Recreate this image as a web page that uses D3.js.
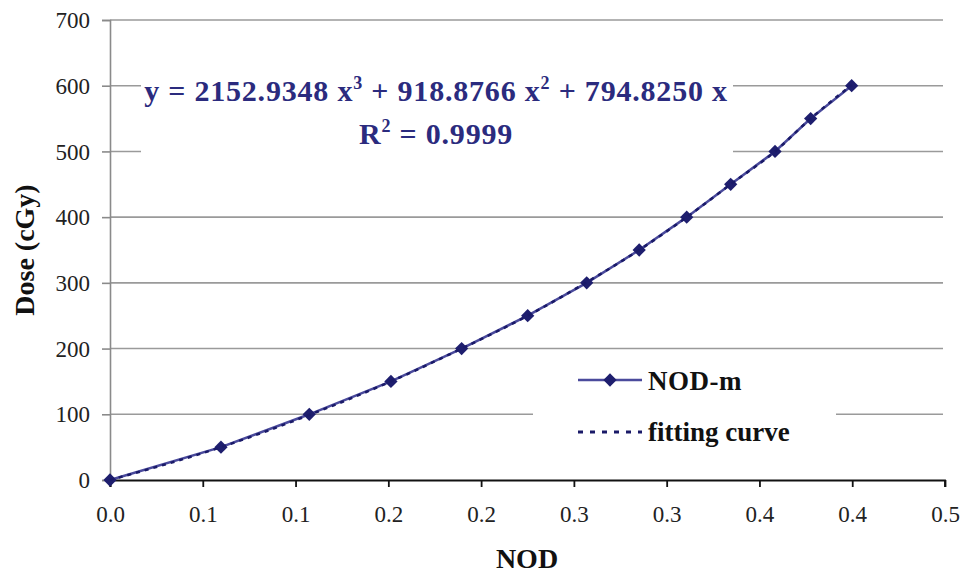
<!DOCTYPE html>
<html>
<head>
<meta charset="utf-8">
<script src="https://cdn.jsdelivr.net/npm/d3@7"></script>
</head>
<body style="margin:0; background:#fff">
<div id="chart"></div>
<script>
// data
const nod  = [0, 0.0598, 0.1074, 0.1514, 0.1895, 0.2251, 0.2569, 0.2852, 0.3108, 0.3345, 0.3584, 0.3776, 0.3997];
const dose = [0, 50, 100, 150, 200, 250, 300, 350, 400, 450, 500, 550, 600];

const fitNod  = [0, 0.0598, 0.1074, 0.1514, 0.1895, 0.2251, 0.2569, 0.2852, 0.3108, 0.3345, 0.3584, 0.3776, 0.3997];
const fitDose = [0, 50, 99, 150, 200, 250, 301, 350, 400, 450, 500, 550, 601];

const xTicks = [0, 0.05, 0.10, 0.15, 0.20, 0.25, 0.30, 0.35, 0.40, 0.45];
const xTickLabels = ["0.0", "0.1", "0.1", "0.2", "0.2", "0.3", "0.3", "0.4", "0.4", "0.5"];
const yTicks = [0, 100, 200, 300, 400, 500, 600, 700];

const FONT = "'Liberation Serif'";
const W = 960, H = 573;
const margin = { top: 20, right: 15, bottom: 93, left: 110 };
const width = W - margin.left - margin.right;
const height = H - margin.top - margin.bottom;

const svg = d3.select("#chart").append("svg")
    .attr("width", W)
    .attr("height", H)
    .style("display", "block");

const g = svg.append("g")
    .attr("transform", `translate(${margin.left},${margin.top})`);

const x = d3.scaleLinear().domain([0, 0.45]).range([0, width]);
const y = d3.scaleLinear().domain([0, 700]).range([height, 0]);

// gridlines
g.append("g")
  .selectAll("line")
  .data(yTicks.slice(1))
  .enter().append("line")
    .attr("x1", 0).attr("x2", width - 2)
    .attr("y1", d => y(d)).attr("y2", d => y(d))
    .attr("stroke", "#9a9a9a")
    .attr("stroke-width", 1.6);

// y axis
const yAxis = g.append("g")
    .call(d3.axisLeft(y).tickValues(yTicks).tickSize(8).tickPadding(12));
yAxis.select(".domain").attr("stroke", "#8a8a8a").attr("stroke-width", 1.6);
yAxis.selectAll(".tick line").attr("stroke", "#8a8a8a").attr("stroke-width", 1.6);
yAxis.selectAll("text")
    .attr("fill", "#222")
    .style("font-family", FONT)
    .style("font-size", "23px")
    .attr("dy", "0.33em");

// x axis
const xAxis = g.append("g")
    .attr("transform", `translate(0,${height})`)
    .call(d3.axisBottom(x).tickValues(xTicks).tickSize(7).tickPadding(19)
      .tickFormat((d, i) => xTickLabels[i]));
xAxis.select(".domain").attr("stroke", "#111").attr("stroke-width", 1.8)
    .attr("d", `M0.5,7V0.5H${width}V7`);
xAxis.selectAll(".tick line").attr("stroke", "#111").attr("stroke-width", 1.8);
xAxis.selectAll("text")
    .attr("fill", "#222")
    .style("font-family", FONT)
    .style("font-size", "23px");

// axis titles
svg.append("text")
    .attr("x", 527).attr("y", 568)
    .attr("text-anchor", "middle")
    .style("font-family", FONT)
    .style("font-size", "28px").style("font-weight", "bold")
    .attr("fill", "#111")
    .text("NOD");

svg.append("text")
    .attr("transform", `translate(34,${margin.top + height / 2}) rotate(-90)`)
    .attr("text-anchor", "middle")
    .style("font-family", FONT)
    .style("font-size", "28px").style("font-weight", "bold")
    .attr("fill", "#111")
    .text("Dose (cGy)");

// equation label box
const eq = svg.append("g");
eq.append("rect")
    .attr("x", 141).attr("y", 62).attr("width", 592).attr("height", 98)
    .attr("fill", "#fff");
const eqText = eq.append("text")
    .attr("x", 436).attr("y", 101)
    .attr("text-anchor", "middle")
    .style("font-family", FONT)
    .style("font-size", "30px").style("font-weight", "bold")
    .style("letter-spacing", "0.8px")
    .attr("fill", "#2b2b7e");
eqText.append("tspan").text("y = 2152.9348 x");
eqText.append("tspan").attr("dy", -12).style("font-size", "18px").text("3");
eqText.append("tspan").attr("dy", 12).text(" + 918.8766 x");
eqText.append("tspan").attr("dy", -12).style("font-size", "18px").text("2");
eqText.append("tspan").attr("dy", 12).text(" + 794.8250 x");
const r2 = eq.append("text")
    .attr("x", 436).attr("y", 144)
    .attr("text-anchor", "middle")
    .style("font-family", FONT)
    .style("font-size", "30px").style("font-weight", "bold")
    .style("letter-spacing", "0.8px")
    .attr("fill", "#2b2b7e");
r2.append("tspan").text("R");
r2.append("tspan").attr("dy", -12).style("font-size", "18px").text("2");
r2.append("tspan").attr("dy", 12).text(" = 0.9999");

// series
const points = nod.map((v, i) => ({ x: v, y: dose[i] }));
const fitPoints = fitNod.map((v, i) => ({ x: v, y: fitDose[i] }));

const line = d3.line().x(d => x(d.x)).y(d => y(d.y));
const fitLine = d3.line().x(d => x(d.x)).y(d => y(d.y)).curve(d3.curveMonotoneX);

g.append("path")
    .attr("d", line(points))
    .attr("fill", "none")
    .attr("stroke", "#4a4a9c")
    .attr("stroke-width", 2.5);

const diamond = d3.symbol().type(d3.symbolSquare).size(88);
g.selectAll(".pt")
  .data(points)
  .enter().append("path")
    .attr("class", "pt")
    .attr("d", diamond)
    .attr("transform", d => `translate(${x(d.x)},${y(d.y)}) rotate(45)`)
    .attr("fill", "#1e1e6e");

g.append("path")
    .attr("d", fitLine(fitPoints))
    .attr("fill", "none")
    .attr("stroke", "#1a1a68")
    .attr("stroke-width", 2.5)
    .attr("stroke-dasharray", "4 5");

// legend
const legend = svg.append("g");
legend.append("rect")
    .attr("x", 533).attr("y", 356).attr("width", 303).attr("height", 112)
    .attr("fill", "#fff");

legend.append("line")
    .attr("x1", 578).attr("x2", 642).attr("y1", 380).attr("y2", 380)
    .attr("stroke", "#4a4a9c").attr("stroke-width", 2.5);
legend.append("path")
    .attr("d", diamond)
    .attr("transform", "translate(610,380) rotate(45)")
    .attr("fill", "#1e1e6e");
legend.append("text")
    .attr("x", 648).attr("y", 390)
    .style("font-family", FONT)
    .style("font-size", "27px").style("font-weight", "bold")
    .style("letter-spacing", "0.5px")
    .attr("fill", "#111")
    .text("NOD-m");

legend.append("line")
    .attr("x1", 578).attr("x2", 642).attr("y1", 432).attr("y2", 432)
    .attr("stroke", "#1a1a68").attr("stroke-width", 3)
    .attr("stroke-dasharray", "5 7");
legend.append("text")
    .attr("x", 648).attr("y", 441)
    .style("font-family", FONT)
    .style("font-size", "27px").style("font-weight", "bold")
    .attr("fill", "#111")
    .text("fitting curve");
</script>
</body>
</html>
